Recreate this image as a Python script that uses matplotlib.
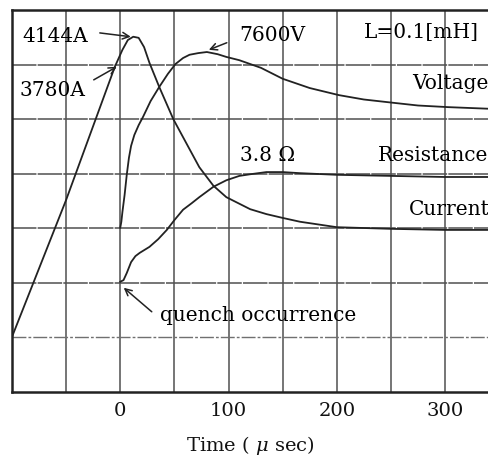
import matplotlib
matplotlib.use('Agg')
import matplotlib.pyplot as plt

plt.rcParams['font.family'] = ['DejaVu Serif']
plt.rcParams['mathtext.fontset'] = 'dejavuserif'

# time in micro sec, values in screen divisions (0 = bottom, 7 = top)
t_current = [-100, -50, -5, 2, 7, 12, 17, 22, 27, 36, 49, 61, 73, 86, 98, 110, 120, 135, 150, 166, 200, 250, 300, 341]
current = [1.01, 3.52, 5.96, 6.27, 6.45, 6.51, 6.49, 6.32, 6.03, 5.59, 5.00, 4.56, 4.12, 3.78, 3.57, 3.45, 3.35,
           3.26, 3.19, 3.12, 3.02, 2.99, 2.97, 2.97]

t_voltage = [0, 1, 2, 4, 6, 8, 10, 13, 17, 21, 28, 36, 44, 51, 58, 64, 72, 80, 90, 98, 110, 130, 150, 175, 202,
             225, 252, 275, 303, 341]
voltage = [3.01, 3.12, 3.30, 3.61, 3.98, 4.29, 4.51, 4.71, 4.89, 5.04, 5.33, 5.59, 5.83, 6.01, 6.12, 6.18, 6.21,
           6.23, 6.19, 6.14, 6.08, 5.94, 5.74, 5.57, 5.44, 5.36, 5.30, 5.25, 5.22, 5.19]

t_resist = [0, 3, 6, 10, 14, 18, 27, 35, 43, 50, 58, 66, 73, 86, 98, 110, 120, 135, 150, 166, 200, 250, 300, 341]
resist = [2.02, 2.05, 2.18, 2.38, 2.49, 2.55, 2.66, 2.80, 2.97, 3.15, 3.34, 3.46, 3.57, 3.76, 3.88, 3.96, 3.99,
          4.03, 4.03, 4.01, 3.98, 3.96, 3.94, 3.94]

tick_vals = [0, 100, 200, 300]
vgrid = [-50, 0, 50, 100, 150, 200, 250, 300]
hgrid = [1, 2, 3, 4, 5, 6]

fig = plt.figure(figsize=(4.89, 4.58), dpi=100)
ax = fig.add_axes([12 / 489, 66 / 458, 477 / 489, 382 / 458])
ax.set_xlim(-100, 340.6)
ax.set_ylim(0, 7)

for x in vgrid:
    ax.axvline(x, color='#505050', lw=1.1, zorder=1)
for y in hgrid:
    if y == 1:
        ax.axhline(y, color='#707070', lw=1.0, ls=(0, (10, 1.5, 2, 1.5)), zorder=1)
    else:
        ax.axhline(y, color='#505050', lw=1.1, ls=(0, (16, 0.8)), zorder=1)

ax.plot(t_current, current, color='#222222', lw=1.3, zorder=3)
ax.plot(t_voltage, voltage, color='#222222', lw=1.3, zorder=3)
ax.plot(t_resist, resist, color='#222222', lw=1.3, zorder=3)

for s in ['left', 'top', 'bottom']:
    ax.spines[s].set_linewidth(1.8)
    ax.spines[s].set_color('#222222')
ax.spines['right'].set_visible(False)

ax.set_yticks([])
ax.set_xticks(tick_vals)
ax.set_xticklabels([str(v) for v in tick_vals])
ax.tick_params(axis='x', length=0, pad=7, labelsize=14, colors='#111111')
ax.set_xlabel('Time ( $\\mu$ sec)', fontsize=14, labelpad=10, color='#111111')

fs = 14.5
arrow = dict(arrowstyle='->', lw=1.1, color='#222222', mutation_scale=12, shrinkA=0, shrinkB=0)
ax.annotate('', xy=(9.7, 6.51), xytext=(-18.9, 6.58), arrowprops=arrow)
ax.annotate('', xy=(-3.2, 5.96), xytext=(-24.5, 5.72), arrowprops=arrow)
ax.annotate('', xy=(81.8, 6.27), xytext=(98.4, 6.40), arrowprops=arrow)
ax.annotate('', xy=(3.2, 1.91), xytext=(29.1, 1.47), arrowprops=arrow)

ax.text(-59.6, 6.51, '4144A', fontsize=fs, ha='center', va='center')
ax.text(-62.4, 5.53, '3780A', fontsize=fs, ha='center', va='center')
ax.text(140, 6.54, '7600V', fontsize=fs, ha='center', va='center')
ax.text(277.7, 6.58, 'L=0.1[mH]', fontsize=fs, ha='center', va='center')
ax.text(339.7, 5.66, 'Voltage', fontsize=fs, ha='right', va='center')
ax.text(339.7, 4.34, 'Resistance', fontsize=fs, ha='right', va='center')
ax.text(341, 3.34, 'Current', fontsize=fs, ha='right', va='center')
ax.text(136, 4.34, '3.8 Ω', fontsize=fs, ha='center', va='center')
ax.text(36.5, 1.40, 'quench occurrence', fontsize=fs, ha='left', va='center')

fig.savefig('out.png', dpi=100)
